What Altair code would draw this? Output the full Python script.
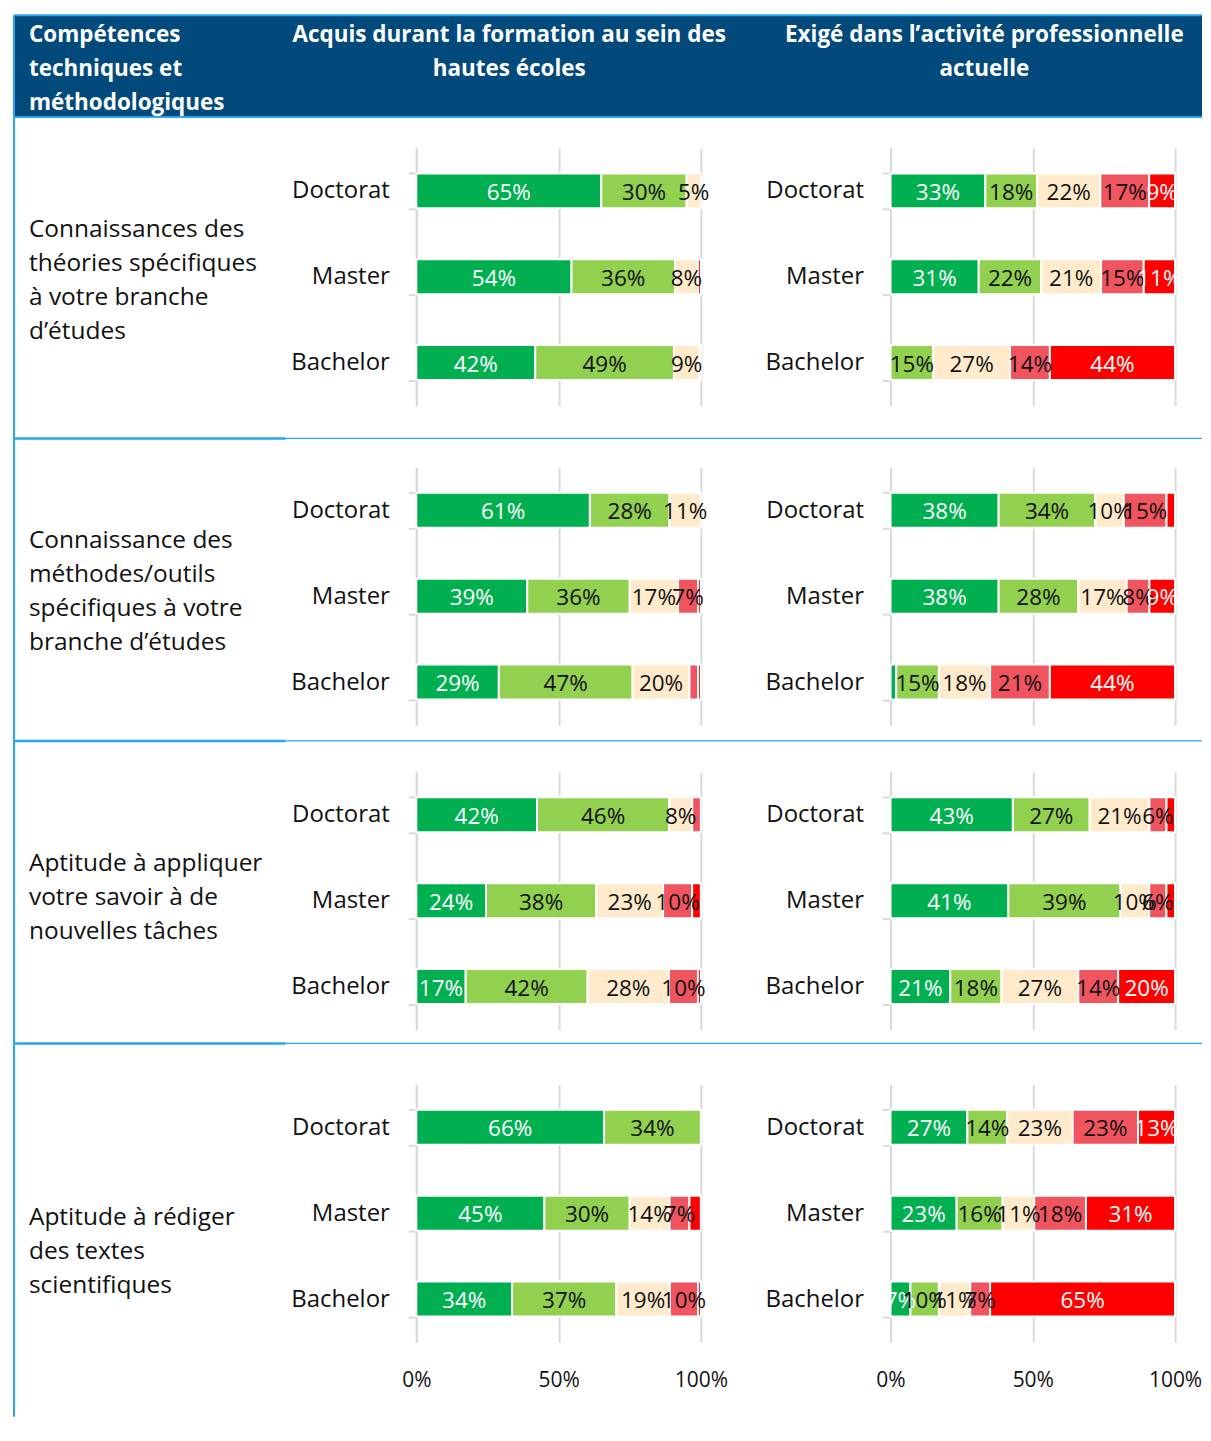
import altair as alt
import pandas as pd

# ---------------- data ----------------
DEGREES = ["Doctorat", "Master", "Bachelor"]
LEVELS = ["Dans une très large mesure", "Dans une large mesure", "Dans une certaine mesure",
          "Dans une faible mesure", "Pas du tout"]
LEVEL_COLORS = ["#00B050", "#92D050", "#FFEBCC", "#F0545F", "#FF0000"]
LABEL_COLORS = ["#FFFFFF", "#111111", "#111111", "#111111", "#FFFFFF"]
X_TICKS = [0, 0.5, 1]

HEADER_LEFT = ["Compétences", "techniques et", "méthodologiques"]
HEADER_MID = ["Acquis durant la formation au sein des", "hautes écoles"]
HEADER_RIGHT = ["Exigé dans l’activité professionnelle", "actuelle"]

COMP_THEORIES = ["Connaissances des", "théories spécifiques", "à votre branche", "d’études"]
COMP_METHODES = ["Connaissance des", "méthodes/outils", "spécifiques à votre", "branche d’études"]
COMP_APPLIQUER = ["Aptitude à appliquer", "votre savoir à de", "nouvelles tâches"]
COMP_REDIGER = ["Aptitude à rédiger", "des textes", "scientifiques"]

# each list: Doctorat, Master, Bachelor ; values in LEVELS order (%)
ACQ_THEORIES = [[65, 30, 5, 0, 0], [54, 36, 8, 0, 1], [42, 49, 9, 0, 0.5]]
EXI_THEORIES = [[33, 18, 22, 17, 9], [31, 22, 21, 15, 11], [0, 15, 27, 14, 44]]
ACQ_METHODES = [[61, 28, 11, 0, 0], [39, 36, 17, 7, 1], [29, 47, 20, 3, 1]]
EXI_METHODES = [[38, 34, 10, 15, 3], [38, 28, 17, 8, 9], [2, 15, 18, 21, 44]]
ACQ_APPLIQUER = [[42, 46, 8, 3, 0], [24, 38, 23, 10, 3], [17, 42, 28, 10, 1]]
EXI_APPLIQUER = [[43, 27, 21, 6, 3], [41, 39, 10, 6, 3], [21, 18, 27, 14, 20]]
ACQ_REDIGER = [[66, 34, 0, 0, 0], [45, 30, 14, 7, 4], [34, 37, 19, 10, 1]]
EXI_REDIGER = [[27, 14, 23, 23, 13], [23, 16, 11, 18, 31], [7, 10, 11, 7, 65]]

# ---------------- style ----------------
FONT = "Open Sans"
HEAD_FONT = "Open Sans"
DARK_BLUE = "#034A7C"
LIGHT_BLUE = "#29A4F0"
GRID = "#D9D9D9"
TXT = "#111111"

LABEL_W = 213
PLOT_W = 285
PLOT_H = 258
COL_GAP = 190
TOTAL_W = 1190

ONE = pd.DataFrame({"k": [0]})


def stacked(values):
    recs = []
    for d, vals in zip(DEGREES, values):
        for i, v in enumerate(vals):
            recs.append(dict(degree=d, level=LEVELS[i], order=i, value=v, tcolor=LABEL_COLORS[i]))
    return pd.DataFrame(recs)


def bar_panel(values, show_labels):
    x_axis = alt.Axis(values=X_TICKS, grid=True, gridColor=GRID, gridWidth=2, domain=False,
                      ticks=False, labels=show_labels, format=".0%", labelFont=FONT,
                      labelFontSize=21, labelColor=TXT, labelPadding=28, labelFlush=False,
                      title=None)
    x_scale = alt.Scale(domain=[0, 1], nice=False)
    y = alt.Y("degree:N", sort=DEGREES, title=None,
              scale=alt.Scale(paddingInner=0.593, paddingOuter=0.2965),
              axis=alt.Axis(domainColor=GRID, domainWidth=2, tickBand="extent", tickColor=GRID,
                            tickWidth=2, tickSize=8, labelFont=FONT, labelFontSize=24,
                            labelColor=TXT, labelPadding=19, grid=False))
    base = alt.Chart(stacked(values)).transform_stack(
        stack="value", groupby=["degree"], sort=[alt.SortField("order", order="ascending")],
        as_=["x0", "x1"], offset="normalize",
    ).transform_calculate(mid="(datum.x0 + datum.x1) / 2", label="datum.value + '%'")
    bars = base.transform_filter("datum.value > 0").mark_bar(stroke="white", strokeWidth=2).encode(
        x=alt.X("x0:Q", scale=x_scale, axis=x_axis),
        x2="x1:Q",
        y=y,
        color=alt.Color("level:N", scale=alt.Scale(domain=LEVELS, range=LEVEL_COLORS), legend=None),
    )
    text = base.transform_filter("datum.value >= 5").mark_text(
        font=FONT, fontSize=22.5, baseline="middle", align="center", dy=2
    ).encode(
        x=alt.X("mid:Q", scale=x_scale, axis=x_axis),
        y=y,
        text="label:N",
        color=alt.Color("tcolor:N", scale=None),
    )
    return alt.layer(bars, text).resolve_scale(color="independent").properties(
        width=PLOT_W, height=PLOT_H)


def label_panel(lines, first_y, cell_h, sep_y=None):
    layers = [alt.Chart(ONE).mark_text(
        align="left", baseline="middle", font=FONT, fontSize=24.5, lineHeight=34, color=TXT
    ).encode(x=alt.value(15), y=alt.value(first_y), text=alt.value(lines))]
    if sep_y is not None:
        layers.append(alt.Chart(ONE).mark_rule(color=LIGHT_BLUE, strokeWidth=2.5).encode(
            x=alt.value(0), x2=alt.value(272), y=alt.value(sep_y)))
        layers.append(alt.Chart(ONE).mark_rule(color=LIGHT_BLUE, strokeWidth=1.2).encode(
            x=alt.value(272), x2=alt.value(TOTAL_W), y=alt.value(sep_y)))
    return alt.layer(*layers).properties(width=LABEL_W, height=cell_h)


def header_text(lines, x, y, align):
    return alt.Chart(ONE).mark_text(
        align=align, baseline="middle", font=HEAD_FONT, fontWeight="bold", fontSize=22.5,
        lineHeight=34, color="white"
    ).encode(x=alt.value(x), y=alt.value(y), text=alt.value(lines))


header = alt.layer(
    alt.Chart(ONE).mark_rect(color=DARK_BLUE).encode(
        x=alt.value(0), x2=alt.value(TOTAL_W), y=alt.value(1), y2=alt.value(103)),
    alt.Chart(ONE).mark_rule(color=LIGHT_BLUE, strokeWidth=2).encode(
        x=alt.value(0), x2=alt.value(TOTAL_W), y=alt.value(1)),
    alt.Chart(ONE).mark_rule(color=LIGHT_BLUE, strokeWidth=2).encode(
        x=alt.value(0), x2=alt.value(TOTAL_W), y=alt.value(103)),
    alt.Chart(ONE).mark_rule(color=LIGHT_BLUE, strokeWidth=2).encode(
        x=alt.value(0), y=alt.value(1), y2=alt.value(1405)),
    header_text(HEADER_LEFT, 15, 21, "left"),
    header_text(HEADER_MID, 496, 21, "center"),
    header_text(HEADER_RIGHT, 972, 21, "center"),
).properties(width=LABEL_W, height=134)


def spacer():
    return alt.Chart(ONE).mark_rect(opacity=0).encode(
        x=alt.value(0), x2=alt.value(1), y=alt.value(0), y2=alt.value(1)
    ).properties(width=PLOT_W, height=1)


cells = [
    header, spacer(), spacer(),
    label_panel(COMP_THEORIES, 82, 320, 291), bar_panel(ACQ_THEORIES, False), bar_panel(EXI_THEORIES, False),
    label_panel(COMP_METHODES, 74, 305, 274), bar_panel(ACQ_METHODES, False), bar_panel(EXI_METHODES, False),
    label_panel(COMP_APPLIQUER, 92, 313, 272), bar_panel(ACQ_APPLIQUER, False), bar_panel(EXI_APPLIQUER, False),
    label_panel(COMP_REDIGER, 134, PLOT_H), bar_panel(ACQ_REDIGER, True), bar_panel(EXI_REDIGER, True),
]

chart = alt.concat(
    *cells, columns=3, spacing={"row": 0, "column": COL_GAP}, bounds="flush", align="each"
).properties(
    padding={"left": 4, "top": 5, "right": 0, "bottom": 0}, background="white"
).configure_view(stroke=None)

chart.save("out.html", embed_options={"renderer": "svg", "actions": False})
